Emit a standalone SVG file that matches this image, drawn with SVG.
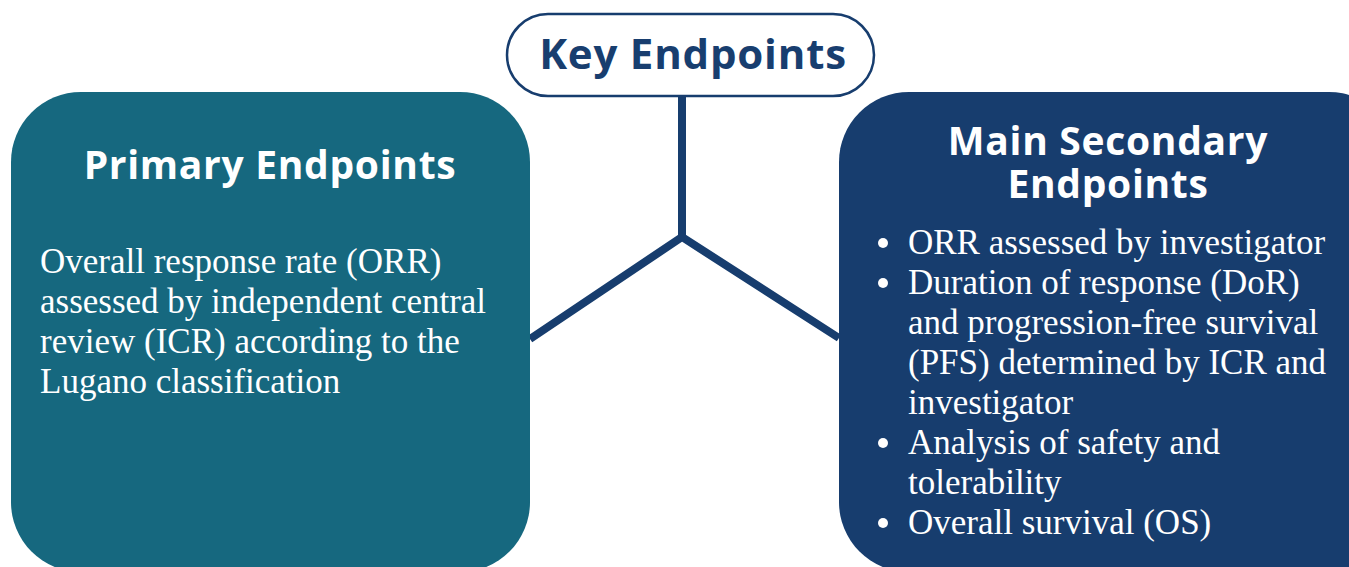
<svg xmlns="http://www.w3.org/2000/svg" width="1349" height="567" viewBox="0 0 1349 567">
<style>
.head{font-family:"Open Sans",Lato,sans-serif;font-weight:700;fill:#ffffff;text-anchor:middle;font-size:39px;letter-spacing:0.7px}
.body{font-family:"Liberation Serif","DejaVu Serif",serif;font-size:35px;fill:#ffffff}
.conn{stroke:#173d6e;stroke-width:8;fill:none;stroke-linejoin:miter}
</style>
<rect width="1349" height="567" fill="#ffffff"/>
<g id="connectors">
<polyline class="conn" points="682,96 682,237"/>
<polyline class="conn" points="530,339 682,237 839,338"/>
</g>
<g id="key">
<rect x="507" y="14" width="367" height="82" rx="41" fill="#ffffff" stroke="#173d6e" stroke-width="2.5"/>
<text x="693" y="69" font-family="'Open Sans',Lato,sans-serif" font-weight="700" font-size="42" letter-spacing="0.8" fill="#183e6f" text-anchor="middle">Key Endpoints</text>
</g>
<g id="primary">
<rect x="11" y="92" width="519" height="480" rx="70" fill="#16687f"/>
<text class="head" x="270" y="179">Primary Endpoints</text>
<text class="body" x="40" y="273">Overall response rate (ORR)</text>
<text class="body" x="40" y="313">assessed by independent central</text>
<text class="body" x="40" y="353">review (ICR) according to the</text>
<text class="body" x="40" y="393">Lugano classification</text>
</g>
<g id="secondary">
<rect x="839" y="92" width="560" height="480" rx="70" fill="#173d6e"/>
<text class="head"><tspan x="1108" y="155">Main Secondary</tspan><tspan x="1108" y="198">Endpoints</tspan></text>
<g fill="#ffffff">
<circle cx="883" cy="243" r="5"/>
<circle cx="883" cy="283" r="5"/>
<circle cx="883" cy="443" r="5"/>
<circle cx="883" cy="523" r="5"/>
</g>
<text class="body" x="908" y="254">ORR assessed by investigator</text>
<text class="body" x="908" y="294">Duration of response (DoR)</text>
<text class="body" x="908" y="334">and progression-free survival</text>
<text class="body" x="908" y="374">(PFS) determined by ICR and</text>
<text class="body" x="908" y="414">investigator</text>
<text class="body" x="908" y="454">Analysis of safety and</text>
<text class="body" x="908" y="494">tolerability</text>
<text class="body" x="908" y="534">Overall survival (OS)</text>
</g>
</svg>
